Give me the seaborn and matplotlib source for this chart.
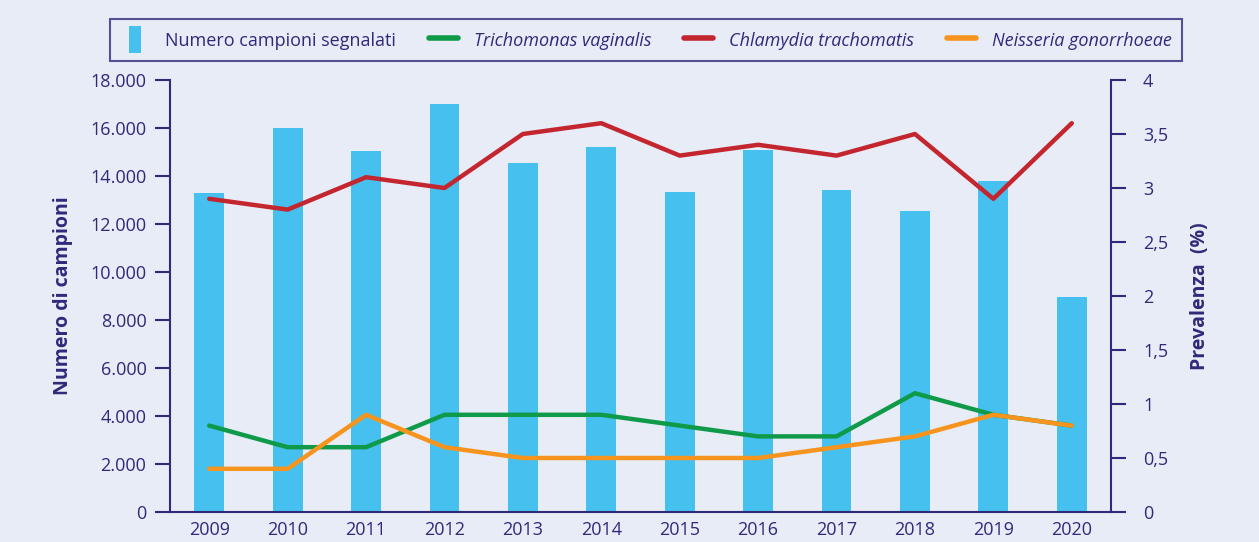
import numpy as np
import pandas as pd
import seaborn as sns
import matplotlib.pyplot as plt
from matplotlib.patches import Patch, Rectangle
from matplotlib.lines import Line2D
from matplotlib.legend_handler import HandlerPatch

years = ['2009', '2010', '2011', '2012', '2013', '2014', '2015', '2016', '2017', '2018', '2019', '2020']
campioni = [13300, 16000, 15050, 17000, 14550, 15200, 13350, 15100, 13400, 12550, 13800, 8950]
trichomonas = [0.8, 0.6, 0.6, 0.9, 0.9, 0.9, 0.8, 0.7, 0.7, 1.1, 0.9, 0.8]
chlamydia = [2.9, 2.8, 3.1, 3.0, 3.5, 3.6, 3.3, 3.4, 3.3, 3.5, 2.9, 3.6]
neisseria = [0.4, 0.4, 0.9, 0.6, 0.5, 0.5, 0.5, 0.5, 0.6, 0.7, 0.9, 0.8]
series_names = ['Trichomonas vaginalis', 'Chlamydia trachomatis', 'Neisseria gonorrhoeae']
y_ticks = [0, 2000, 4000, 6000, 8000, 10000, 12000, 14000, 16000, 18000]
y_labels = ['0', '2.000', '4.000', '6.000', '8.000', '10.000', '12.000', '14.000', '16.000', '18.000']
p_ticks = [0, 0.5, 1, 1.5, 2, 2.5, 3, 3.5, 4]
p_labels = ['0', '0,5', '1', '1,5', '2', '2,5', '3', '3,5', '4']

bg = '#E8ECF7'
navy = '#2E2A7A'
bar_col = '#46C1EF'
colors = ['#0E9A48', '#C3262E', '#F7941D']

sns.set_style('white')
plt.rcParams['font.family'] = ['Open Sans', 'DejaVu Sans']

fig = plt.figure(figsize=(12.59, 5.42), dpi=100, facecolor=bg)
ax = fig.add_axes([170 / 1259, 30 / 542, (1111 - 170) / 1259, (512 - 80) / 542])
ax.set_facecolor(bg)

bars = pd.DataFrame({'anno': years, 'campioni': campioni})
sns.barplot(data=bars, x='anno', y='campioni', color=bar_col, width=0.38,
            saturation=1, linewidth=0, edgecolor='none', ax=ax, zorder=2)

ax2 = ax.twinx()
lines = pd.DataFrame({
    'anno': years * 3,
    'prev': trichomonas + chlamydia + neisseria,
    'serie': [s for s in series_names for _ in years],
})
sns.lineplot(data=lines, x='anno', y='prev', hue='serie', palette=colors,
             linewidth=3.2, ax=ax2, legend=False)

ax.set_xlim(-0.5, len(years) - 0.5)
ax.set_ylim(0, 18000)
ax2.set_ylim(0, 4)

ax.set_xticks(np.arange(len(years) + 1) - 0.5)
ax.set_xticklabels([])
ax.set_xticks(np.arange(len(years)), minor=True)
ax.set_xticklabels(years, minor=True)
ax.tick_params(axis='x', which='major', length=9, width=1.5, color=navy, direction='out')
ax.tick_params(axis='x', which='minor', length=0, pad=6.5, labelsize=13, labelcolor=navy)

ax.set_yticks(y_ticks)
ax.set_yticklabels(y_labels)
ax.tick_params(axis='y', length=11, width=1.5, color=navy, labelsize=13, labelcolor=navy, pad=6, left=True)
ax2.set_yticks(p_ticks)
ax2.set_yticklabels(p_labels)
ax2.tick_params(axis='y', length=11, width=1.5, color=navy, labelsize=13, labelcolor=navy, pad=12, right=True)

for a in (ax, ax2):
    a.spines['top'].set_visible(False)
    for side in ('left', 'right', 'bottom'):
        a.spines[side].set_color(navy)
        a.spines[side].set_linewidth(1.5)
ax.spines['right'].set_visible(False)
ax2.spines['left'].set_visible(False)
ax2.spines['bottom'].set_visible(False)

ax.set_xlabel('')
ax.set_ylabel('Numero di campioni', fontsize=14, fontweight='bold', color=navy, labelpad=12)
ax2.set_ylabel('Prevalenza  (%)', fontsize=14, fontweight='bold', color=navy, labelpad=16)


def narrow_patch(legend, orig_handle, xdescent, ydescent, width, height, fontsize):
    h = height * 1.5
    w = width * 0.42
    return Rectangle((-xdescent + (width - w) / 2, -ydescent - (h - height) / 2), w, h)


handles = [Patch(facecolor=bar_col, edgecolor='none')]
handles += [Line2D([0], [0], color=c, linewidth=4) for c in colors]
labels = ['Numero campioni segnalati'] + series_names
leg = fig.legend(handles, labels, loc='center', bbox_to_anchor=(646 / 1259, 1 - 40 / 542),
                 ncol=4, frameon=True, fancybox=False, fontsize=13, handlelength=1.6,
                 handleheight=1.2, columnspacing=1.8, handletextpad=0.9, borderpad=0.6,
                 handler_map={Patch: HandlerPatch(patch_func=narrow_patch)})
leg.get_frame().set_facecolor(bg)
leg.get_frame().set_edgecolor(navy)
leg.get_frame().set_linewidth(1.5)
for t in leg.get_texts():
    t.set_color(navy)
for t in leg.get_texts()[1:]:
    t.set_style('italic')

fig.savefig('out.png', dpi=100, facecolor=bg)
